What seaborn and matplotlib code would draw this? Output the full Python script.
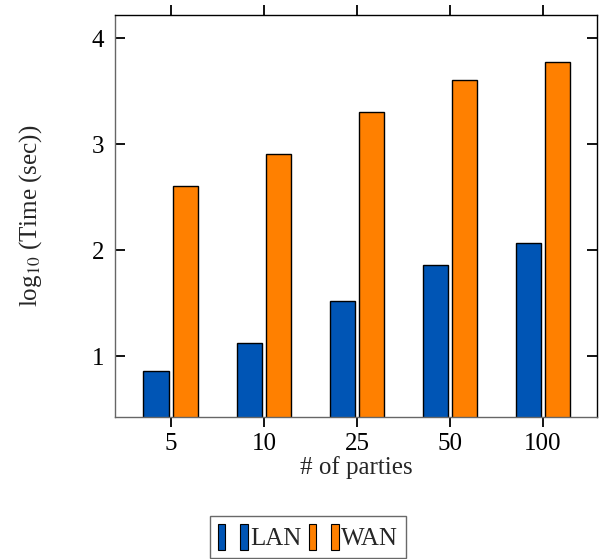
import matplotlib
matplotlib.use("Agg")
import matplotlib.pyplot as plt
import seaborn as sns
import pandas as pd
from matplotlib.patches import Patch
from matplotlib.legend_handler import HandlerTuple

parties = ["5", "10", "25", "50", "100"]
lan = [0.86, 1.12, 1.52, 1.86, 2.07]
wan = [2.61, 2.91, 3.30, 3.61, 3.78]
series = ["LAN", "WAN"]
colors = {"LAN": "#0055b5", "WAN": "#ff8000"}

df = pd.DataFrame({
    "parties": parties * 2,
    "value": lan + wan,
    "net": ["LAN"] * len(parties) + ["WAN"] * len(parties),
})

sns.set_theme(style="white")
plt.rcParams["font.family"] = ["Liberation Serif", "DejaVu Serif"]
plt.rcParams["mathtext.fontset"] = "stix"

FS = 18
fig = plt.figure(figsize=(6.02, 5.59), dpi=100)
ax = fig.add_axes([115 / 602, 1 - 417 / 559, (597 - 115) / 602, (417 - 15) / 559])

sns.barplot(data=df, x="parties", y="value", hue="net", order=parties,
            hue_order=series, palette=colors, width=0.637, gap=0.155,
            saturation=1, edgecolor="black", linewidth=1.0, ax=ax, legend=False)

ax.set_xlim(-0.6, 4.58)
ax.set_ylim(0.425, 4.22)
ax.set_yticks([1, 2, 3, 4])
ax.set_xlabel("# of parties", fontsize=FS, labelpad=1)
ax.set_ylabel(r"log$_{10}$ (Time (sec))", fontsize=FS, labelpad=34)

ax.tick_params(axis="x", which="both", direction="out", length=7.2, width=1.3,
               top=True, bottom=True, labelsize=FS, colors="black", pad=4)
ax.tick_params(axis="y", which="both", direction="in", length=7.2, width=1.3,
               left=True, right=True, labelsize=FS, colors="black", pad=8)

for side in ["top", "right"]:
    ax.spines[side].set_color("black")
    ax.spines[side].set_linewidth(1.0)
for side in ["left", "bottom"]:
    ax.spines[side].set_color("#666666")
    ax.spines[side].set_linewidth(1.0)

handles = []
for s in series:
    h = (Patch(facecolor=colors[s], edgecolor="black", linewidth=0.8),
         Patch(facecolor=colors[s], edgecolor="black", linewidth=0.8))
    handles.append(h)

leg = fig.legend(handles, series, loc="center",
                 bbox_to_anchor=(308 / 602, 1 - 537 / 559), ncol=2,
                 handler_map={tuple: HandlerTuple(ndivide=None, pad=0.6)},
                 frameon=True, fancybox=False, fontsize=FS,
                 handlelength=1.2, handleheight=1.2, handletextpad=0.1,
                 columnspacing=0.3, borderpad=0.3, borderaxespad=0)
leg.get_frame().set_edgecolor("#444444")
leg.get_frame().set_linewidth(1.0)

fig.savefig("out.png", dpi=100)
